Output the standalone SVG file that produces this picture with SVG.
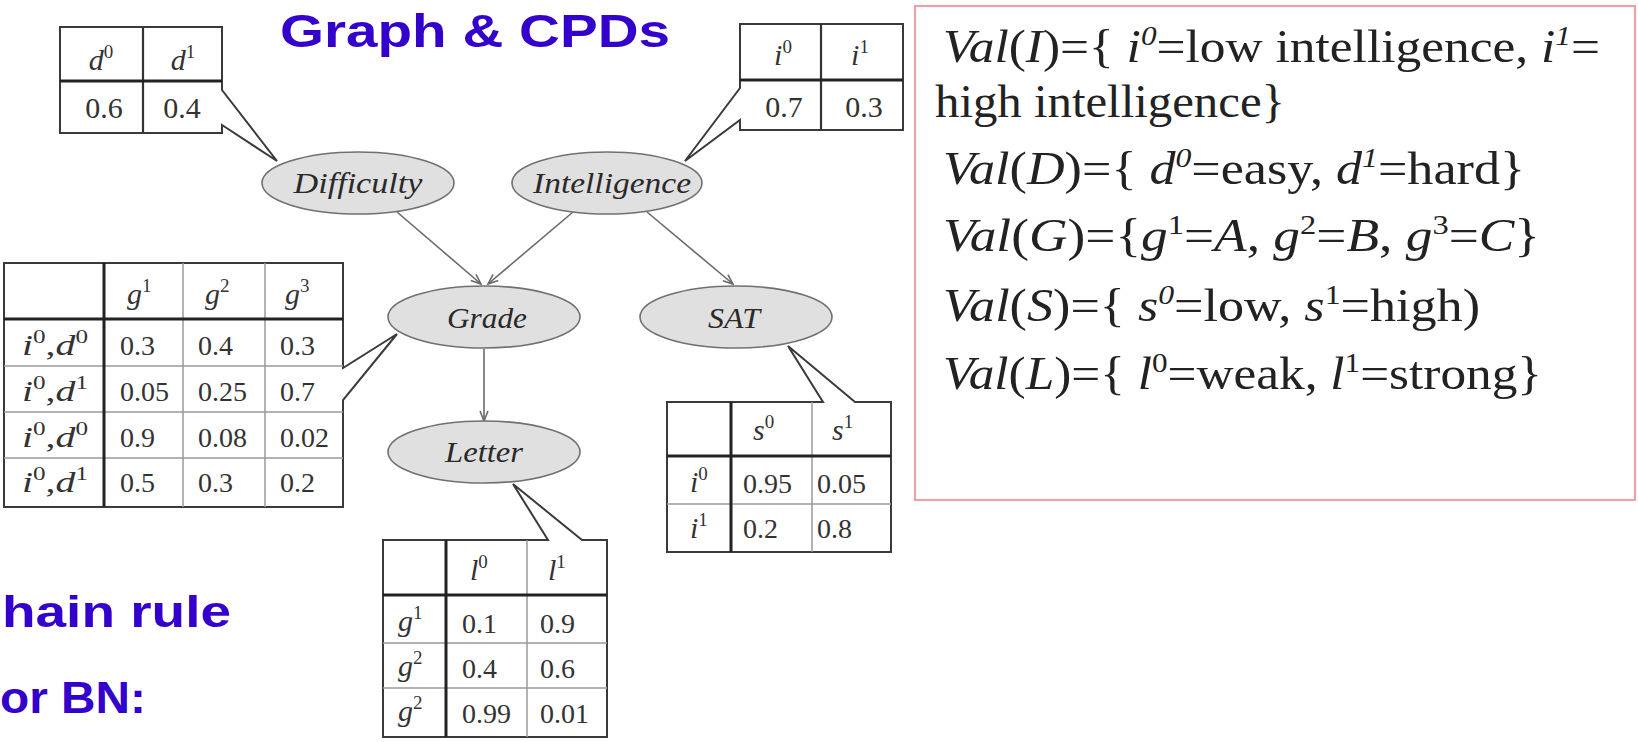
<svg xmlns="http://www.w3.org/2000/svg" width="1638" height="742" viewBox="0 0 1638 742">
  <defs>
    <style>
      .serif { font-family: "Liberation Serif", "Times New Roman", serif; fill: #2a2a2a; }
      .it { font-style: italic; }
      .cell { font-family: "Liberation Serif", "Times New Roman", serif; font-size: 28px; fill: #333; }
      .cell30 { font-family: "Liberation Serif", "Times New Roman", serif; font-size: 30px; fill: #333; }
      .sup { font-size: 19px; }
      .tbl { fill: #fff; stroke: #3a3a3a; stroke-width: 2; stroke-linejoin: miter; }
      .thick { stroke: #222; stroke-width: 3; }
      .dark { stroke: #333; stroke-width: 2.2; }
      .thin { stroke: #9a9a9a; stroke-width: 1.5; }
      .node ellipse { fill: #e0e0e0; stroke: #707070; stroke-width: 1.6; }
      .node text { font-family: "Liberation Serif", "Times New Roman", serif; font-style: italic; font-size: 30px; fill: #2a2a2a; text-anchor: middle; }
      .edge { stroke: #6a6a6a; stroke-width: 1.6; fill: none; marker-end: url(#arrow); }
      .blue { font-family: "Liberation Sans", Arial, sans-serif; font-weight: bold; fill: #3300cc; }
      .val { font-family: "Liberation Serif", "Times New Roman", serif; font-size: 46px; fill: #222; }
      .vsup { font-size: 28px; }
    </style>
    <marker id="arrow" viewBox="0 0 12 10" refX="11" refY="5" markerWidth="12" markerHeight="10" markerUnits="userSpaceOnUse" orient="auto">
      <path d="M1,1 L11,5 L1,9" fill="none" stroke="#6a6a6a" stroke-width="1.6"/>
    </marker>
  </defs>

  <rect width="1638" height="742" fill="#fff"/>

  <!-- headings -->
  <text class="blue" x="280" y="47" font-size="47" textLength="390" lengthAdjust="spacingAndGlyphs">Graph &amp; CPDs</text>
  <text class="blue" x="2" y="627" font-size="44" textLength="229" lengthAdjust="spacingAndGlyphs">hain rule</text>
  <text class="blue" x="0" y="713" font-size="44" textLength="146" lengthAdjust="spacingAndGlyphs">or BN:</text>

  <!-- connectors -->
  <g id="edges">
    <line class="edge" x1="397" y1="212" x2="481" y2="284"/>
    <line class="edge" x1="573" y1="212" x2="488" y2="284"/>
    <line class="edge" x1="647" y1="212" x2="733" y2="284"/>
    <line class="edge" x1="484" y1="349" x2="484" y2="421"/>
  </g>

  <!-- CPD of Difficulty -->
  <g id="cpd-difficulty">
    <path class="tbl" d="M60,27 H222 V90 L277,161 L222,125 V133 H60 Z"/>
    <line class="dark" x1="143" y1="27" x2="143" y2="133"/>
    <line class="thick" x1="60" y1="81" x2="222" y2="81"/>
    <text class="cell30" x="101" y="70" text-anchor="middle"><tspan class="it">d</tspan><tspan class="sup" dy="-12">0</tspan></text>
    <text class="cell30" x="183" y="70" text-anchor="middle"><tspan class="it">d</tspan><tspan class="sup" dy="-12">1</tspan></text>
    <text class="cell30" x="104" y="118" text-anchor="middle">0.6</text>
    <text class="cell30" x="182" y="118" text-anchor="middle">0.4</text>
  </g>

  <!-- CPD of Intelligence -->
  <g id="cpd-intelligence">
    <path class="tbl" d="M740,24 H903 V130 H740 V120 L685,161 L740,88 Z"/>
    <line class="dark" x1="821" y1="24" x2="821" y2="130"/>
    <line class="thick" x1="740" y1="80" x2="903" y2="80"/>
    <text class="cell30" x="783" y="65" text-anchor="middle"><tspan class="it">i</tspan><tspan class="sup" dy="-12">0</tspan></text>
    <text class="cell30" x="860" y="65" text-anchor="middle"><tspan class="it">i</tspan><tspan class="sup" dy="-12">1</tspan></text>
    <text class="cell30" x="784" y="117" text-anchor="middle">0.7</text>
    <text class="cell30" x="864" y="117" text-anchor="middle">0.3</text>
  </g>

  <!-- CPD of Grade -->
  <g id="cpd-grade">
    <path class="tbl" d="M4,263 H343 V368 L397,334 L343,400 V507 H4 Z"/>
    <line class="thin" x1="4" y1="366" x2="343" y2="366"/>
    <line class="thin" x1="4" y1="412" x2="343" y2="412"/>
    <line class="thin" x1="4" y1="458" x2="343" y2="458"/>
    <line class="thin" x1="183" y1="263" x2="183" y2="507"/>
    <line class="thin" x1="265" y1="263" x2="265" y2="507"/>
    <line class="thick" x1="104" y1="263" x2="104" y2="507"/>
    <line class="thick" x1="4" y1="319" x2="343" y2="319"/>
    <text class="cell30" x="127" y="304"><tspan class="it">g</tspan><tspan class="sup" dy="-12">1</tspan></text>
    <text class="cell30" x="205" y="304"><tspan class="it">g</tspan><tspan class="sup" dy="-12">2</tspan></text>
    <text class="cell30" x="285" y="304"><tspan class="it">g</tspan><tspan class="sup" dy="-12">3</tspan></text>
    <text class="cell30" x="22" y="355" textLength="66" lengthAdjust="spacingAndGlyphs"><tspan class="it">i</tspan><tspan class="sup" dy="-12">0</tspan><tspan dy="12">,</tspan><tspan class="it">d</tspan><tspan class="sup" dy="-12">0</tspan></text>
    <text class="cell30" x="22" y="401" textLength="66" lengthAdjust="spacingAndGlyphs"><tspan class="it">i</tspan><tspan class="sup" dy="-12">0</tspan><tspan dy="12">,</tspan><tspan class="it">d</tspan><tspan class="sup" dy="-12">1</tspan></text>
    <text class="cell30" x="22" y="447" textLength="66" lengthAdjust="spacingAndGlyphs"><tspan class="it">i</tspan><tspan class="sup" dy="-12">0</tspan><tspan dy="12">,</tspan><tspan class="it">d</tspan><tspan class="sup" dy="-12">0</tspan></text>
    <text class="cell30" x="22" y="492" textLength="66" lengthAdjust="spacingAndGlyphs"><tspan class="it">i</tspan><tspan class="sup" dy="-12">0</tspan><tspan dy="12">,</tspan><tspan class="it">d</tspan><tspan class="sup" dy="-12">1</tspan></text>
    <text class="cell" x="120" y="355">0.3</text>
    <text class="cell" x="198" y="355">0.4</text>
    <text class="cell" x="280" y="355">0.3</text>
    <text class="cell" x="120" y="401">0.05</text>
    <text class="cell" x="198" y="401">0.25</text>
    <text class="cell" x="280" y="401">0.7</text>
    <text class="cell" x="120" y="447">0.9</text>
    <text class="cell" x="198" y="447">0.08</text>
    <text class="cell" x="280" y="447">0.02</text>
    <text class="cell" x="120" y="492">0.5</text>
    <text class="cell" x="198" y="492">0.3</text>
    <text class="cell" x="280" y="492">0.2</text>
  </g>

  <!-- CPD of SAT -->
  <g id="cpd-sat">
    <path class="tbl" d="M667,402 H823 L788,346 L855,402 H891 V552 H667 Z"/>
    <line class="thin" x1="667" y1="504" x2="891" y2="504"/>
    <line class="thin" x1="812" y1="402" x2="812" y2="552"/>
    <line class="thick" x1="731" y1="402" x2="731" y2="552"/>
    <line class="thick" x1="667" y1="456" x2="891" y2="456"/>
    <text class="cell30" x="753" y="440"><tspan class="it">s</tspan><tspan class="sup" dy="-12">0</tspan></text>
    <text class="cell30" x="832" y="440"><tspan class="it">s</tspan><tspan class="sup" dy="-12">1</tspan></text>
    <text class="cell30" x="690" y="492"><tspan class="it">i</tspan><tspan class="sup" dy="-12">0</tspan></text>
    <text class="cell30" x="690" y="538"><tspan class="it">i</tspan><tspan class="sup" dy="-12">1</tspan></text>
    <text class="cell" x="743" y="493">0.95</text>
    <text class="cell" x="817" y="493">0.05</text>
    <text class="cell" x="743" y="538">0.2</text>
    <text class="cell" x="817" y="538">0.8</text>
  </g>

  <!-- CPD of Letter -->
  <g id="cpd-letter">
    <path class="tbl" d="M383,540 H548 L513,484 L582,540 H607 V737 H383 Z"/>
    <line class="thin" x1="383" y1="643" x2="607" y2="643"/>
    <line class="thin" x1="383" y1="688" x2="607" y2="688"/>
    <line class="thin" x1="527" y1="540" x2="527" y2="737"/>
    <line class="thick" x1="446" y1="540" x2="446" y2="737"/>
    <line class="thick" x1="383" y1="595" x2="607" y2="595"/>
    <text class="cell30" x="470" y="580"><tspan class="it">l</tspan><tspan class="sup" dy="-12">0</tspan></text>
    <text class="cell30" x="548" y="580"><tspan class="it">l</tspan><tspan class="sup" dy="-12">1</tspan></text>
    <text class="cell30" x="398" y="631"><tspan class="it">g</tspan><tspan class="sup" dy="-12">1</tspan></text>
    <text class="cell30" x="398" y="676"><tspan class="it">g</tspan><tspan class="sup" dy="-12">2</tspan></text>
    <text class="cell30" x="398" y="721"><tspan class="it">g</tspan><tspan class="sup" dy="-12">2</tspan></text>
    <text class="cell" x="462" y="633">0.1</text>
    <text class="cell" x="540" y="633">0.9</text>
    <text class="cell" x="462" y="678">0.4</text>
    <text class="cell" x="540" y="678">0.6</text>
    <text class="cell" x="462" y="723">0.99</text>
    <text class="cell" x="540" y="723">0.01</text>
  </g>

  <!-- network nodes -->
  <g id="node-difficulty" class="node">
    <ellipse cx="358" cy="183" rx="96" ry="31"/>
    <text x="358" y="193" textLength="129" lengthAdjust="spacingAndGlyphs">Difficulty</text>
  </g>
  <g id="node-intelligence" class="node">
    <ellipse cx="607" cy="183" rx="95" ry="31"/>
    <text x="612" y="193" textLength="158" lengthAdjust="spacingAndGlyphs">Intelligence</text>
  </g>
  <g id="node-grade" class="node">
    <ellipse cx="484" cy="317" rx="96" ry="31"/>
    <text x="487" y="328" textLength="80" lengthAdjust="spacingAndGlyphs">Grade</text>
  </g>
  <g id="node-sat" class="node">
    <ellipse cx="736" cy="317" rx="96" ry="31"/>
    <text x="734" y="328" textLength="52" lengthAdjust="spacingAndGlyphs">SAT</text>
  </g>
  <g id="node-letter" class="node">
    <ellipse cx="484" cy="452" rx="96" ry="31"/>
    <text x="484" y="462" textLength="78" lengthAdjust="spacingAndGlyphs">Letter</text>
  </g>

  <!-- variable domains -->
  <g id="domains">
    <rect x="915" y="6" width="720" height="494" fill="#fff" stroke="#eba3ab" stroke-width="2.2"/>
    <text class="val" x="943" y="62" textLength="657" lengthAdjust="spacingAndGlyphs"><tspan class="it">Val</tspan>(<tspan class="it">I</tspan>)={ <tspan class="it">i</tspan><tspan class="vsup it" dy="-17">0</tspan><tspan dy="17">=low intelligence, </tspan><tspan class="it">i</tspan><tspan class="vsup it" dy="-17">1</tspan><tspan dy="17">=</tspan></text>
    <text class="val" x="935" y="117" textLength="350" lengthAdjust="spacingAndGlyphs">high intelligence}</text>
    <text class="val" x="943" y="184" textLength="582" lengthAdjust="spacingAndGlyphs"><tspan class="it">Val</tspan>(<tspan class="it">D</tspan>)={ <tspan class="it">d</tspan><tspan class="vsup it" dy="-17">0</tspan><tspan dy="17">=easy, </tspan><tspan class="it">d</tspan><tspan class="vsup it" dy="-17">1</tspan><tspan dy="17">=hard}</tspan></text>
    <text class="val" x="943" y="251" textLength="597" lengthAdjust="spacingAndGlyphs"><tspan class="it">Val</tspan>(<tspan class="it">G</tspan>)={<tspan class="it">g</tspan><tspan class="vsup" dy="-17">1</tspan><tspan dy="17">=</tspan><tspan class="it">A</tspan>, <tspan class="it">g</tspan><tspan class="vsup" dy="-17">2</tspan><tspan dy="17">=</tspan><tspan class="it">B</tspan>, <tspan class="it">g</tspan><tspan class="vsup" dy="-17">3</tspan><tspan dy="17">=</tspan><tspan class="it">C</tspan>}</text>
    <text class="val" x="943" y="321" textLength="537" lengthAdjust="spacingAndGlyphs"><tspan class="it">Val</tspan>(<tspan class="it">S</tspan>)={ <tspan class="it">s</tspan><tspan class="vsup it" dy="-17">0</tspan><tspan dy="17">=low, </tspan><tspan class="it">s</tspan><tspan class="vsup" dy="-17">1</tspan><tspan dy="17">=high)</tspan></text>
    <text class="val" x="943" y="389" textLength="599" lengthAdjust="spacingAndGlyphs"><tspan class="it">Val</tspan>(<tspan class="it">L</tspan>)={ <tspan class="it">l</tspan><tspan class="vsup" dy="-17">0</tspan><tspan dy="17">=weak, </tspan><tspan class="it">l</tspan><tspan class="vsup" dy="-17">1</tspan><tspan dy="17">=strong}</tspan></text>
  </g>
</svg>
